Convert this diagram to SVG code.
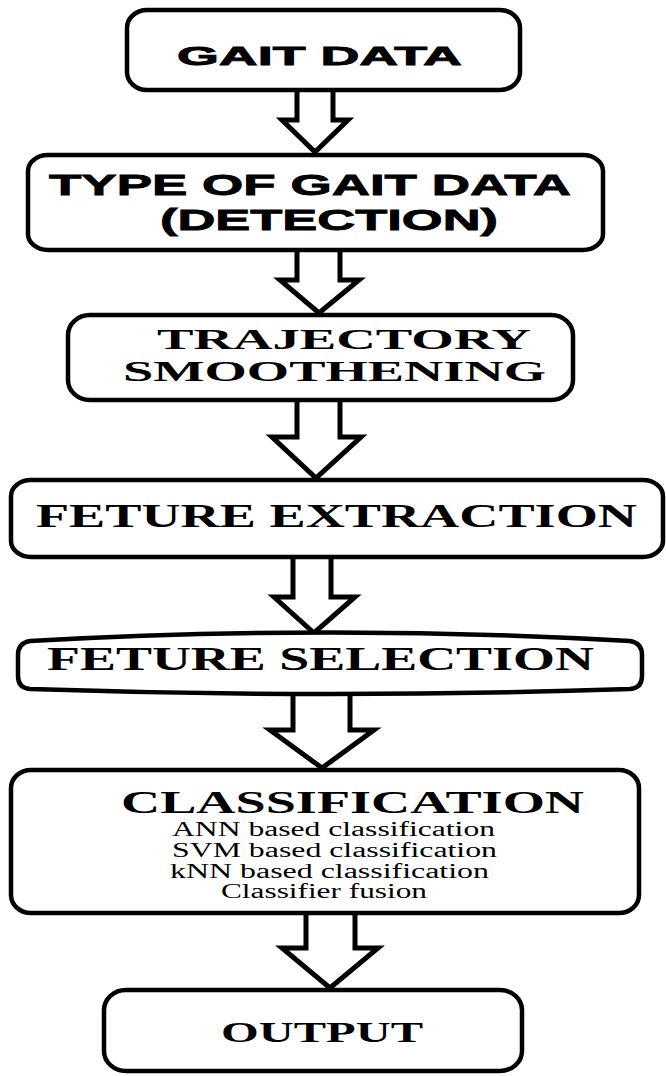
<svg xmlns="http://www.w3.org/2000/svg" width="666" height="1076" viewBox="0 0 666 1076">
<style>
.box{fill:#fff;stroke:#000;stroke-width:4.5}
.arr{fill:#fff;stroke:#000;stroke-width:5;stroke-linejoin:miter}
.sans{font-family:"Liberation Sans",Arial,sans-serif;font-weight:bold;fill:#000;stroke:#000;stroke-width:0.8}
.serif{font-family:"Liberation Serif","Times New Roman",serif;font-weight:bold;fill:#000}
.sub{font-family:"Liberation Serif","Times New Roman",serif;font-size:20px;fill:#000}
</style>
<rect width="666" height="1076" fill="#fff"/>
<g id="connectors">
<path class="arr" d="M297,90 L297,120 L282,120 L315,152 L348,120 L333,120 L333,90"/>
<path class="arr" d="M297,250 L297,280 L280,280 L319,313 L359,280 L340,280 L340,250"/>
<path class="arr" d="M297,400 L297,437 L272,437 L316,478 L361,437 L340,437 L340,400"/>
<path class="arr" d="M293,557 L293,597 L274,597 L314,633 L355,597 L331,597 L331,557"/>
<path class="arr" d="M293,692 L293,730 L270,730 L322,768 L374,730 L350,730 L350,692"/>
<path class="arr" d="M306,913 L306,948 L282,948 L330,988 L378,948 L355,948 L355,913"/>
</g>
<g id="node1">
<rect class="box" x="127" y="10" width="393" height="80" rx="20" ry="18"/>
<text class="sans" x="177" y="65" font-size="25" textLength="285" lengthAdjust="spacingAndGlyphs">GAIT DATA</text>
</g>
<g id="node2">
<rect class="box" x="28" y="155" width="575" height="95" rx="20" ry="16"/>
<text class="sans" x="49" y="195" font-size="30" textLength="522" lengthAdjust="spacingAndGlyphs">TYPE OF GAIT DATA</text>
<text class="sans" x="160" y="230" font-size="30" textLength="338" lengthAdjust="spacingAndGlyphs">(DETECTION)</text>
</g>
<g id="node3">
<rect class="box" x="68" y="315" width="505" height="85" rx="22" ry="20"/>
<text class="serif" x="157" y="349" font-size="29" textLength="374" lengthAdjust="spacingAndGlyphs">TRAJECTORY</text>
<text class="serif" x="123" y="381" font-size="29" textLength="423" lengthAdjust="spacingAndGlyphs">SMOOTHENING</text>
</g>
<g id="node4">
<rect class="box" x="11" y="480" width="652" height="77" rx="20" ry="16"/>
<text class="serif" x="36" y="527" font-size="33" textLength="601" lengthAdjust="spacingAndGlyphs">FETURE EXTRACTION</text>
</g>
<g id="node5">
<path class="box" d="M30,641 Q330,624 630,641 Q642,643 642,655 L642,676 Q642,688 630,689 Q330,699 30,689 Q18,688 18,676 L18,655 Q18,643 30,641 Z"/>
<text class="serif" x="47" y="670" font-size="33" textLength="547" lengthAdjust="spacingAndGlyphs">FETURE SELECTION</text>
</g>
<g id="node6">
<rect class="box" x="11" y="770" width="628" height="143" rx="20" ry="18"/>
<text class="serif" x="121" y="813" font-size="32" textLength="463" lengthAdjust="spacingAndGlyphs">CLASSIFICATION</text>
<text class="sub" x="172" y="836" textLength="323" lengthAdjust="spacingAndGlyphs">ANN based classification</text>
<text class="sub" x="172" y="857" textLength="325" lengthAdjust="spacingAndGlyphs">SVM based classification</text>
<text class="sub" x="170" y="878" textLength="319" lengthAdjust="spacingAndGlyphs">kNN based classification</text>
<text class="sub" x="221" y="898" textLength="206" lengthAdjust="spacingAndGlyphs">Classifier fusion</text>
</g>
<g id="node7">
<rect class="box" x="104" y="990" width="418" height="81" rx="22" ry="20"/>
<text class="serif" x="221" y="1042" font-size="29" textLength="202" lengthAdjust="spacingAndGlyphs">OUTPUT</text>
</g>
</svg>
